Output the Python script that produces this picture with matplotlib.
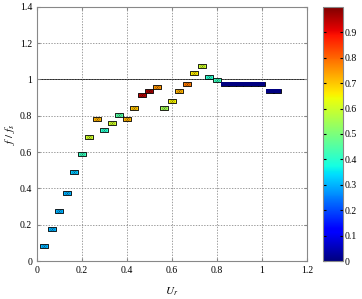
import numpy as np
import matplotlib
matplotlib.use("Agg")
import matplotlib.pyplot as plt
from matplotlib.path import Path

# reduced velocity, frequency ratio and colour value for each run
ur = [0.031, 0.067, 0.098, 0.133, 0.164, 0.200, 0.231, 0.267, 0.298, 0.333,
      0.364, 0.400, 0.431, 0.467, 0.498, 0.533, 0.564, 0.600, 0.631, 0.667,
      0.698, 0.733, 0.764, 0.800, 0.835, 0.867, 0.900, 0.933, 0.966, 0.998,
      1.036, 1.067]
f_ratio = [0.083, 0.176, 0.276, 0.375, 0.490, 0.590, 0.684, 0.783, 0.722, 0.761,
           0.805, 0.783, 0.843, 0.915, 0.937, 0.959, 0.843, 0.882, 0.937, 0.976,
           1.036, 1.075, 1.014, 0.998, 0.976, 0.976, 0.976, 0.976, 0.976, 0.976,
           0.937, 0.937]
amp = [0.30, 0.30, 0.30, 0.30, 0.32, 0.42, 0.60, 0.72, 0.40, 0.60,
       0.45, 0.72, 0.70, 0.95, 0.97, 0.75, 0.55, 0.65, 0.72, 0.78,
       0.66, 0.60, 0.40, 0.42, 0.0, 0.0, 0.0, 0.0, 0.0, 0.0,
       0.0, 0.0]

plt.rcParams['font.family'] = ['Liberation Serif', 'DejaVu Serif']
plt.rcParams['mathtext.fontset'] = 'stix'

fig = plt.figure(figsize=(3.62, 2.99), dpi=100)
ax = fig.add_axes([0.102, 0.127, 0.746, 0.850])
cax = fig.add_axes([0.892, 0.127, 0.056, 0.850])

# flat rectangle marker
box = Path([(-1, -0.55), (1, -0.55), (1, 0.55), (-1, 0.55), (-1, -0.55)],
           [Path.MOVETO, Path.LINETO, Path.LINETO, Path.LINETO, Path.CLOSEPOLY])

ax.axhline(1.0, color='black', lw=0.6, zorder=1)
sc = ax.scatter(ur, f_ratio, c=amp, cmap='jet', vmin=0, vmax=1, marker=box,
                s=30, edgecolors='black', linewidths=0.6, zorder=3)
# dark pattern inside the markers
ax.scatter(ur[:24], f_ratio[:24], marker='$\\infty$', s=9, c='black',
           linewidths=0, alpha=0.7, zorder=4)
# the high-Ur runs overlap into a dark band
ax.scatter(ur[24:], f_ratio[24:], c=amp[24:], cmap='jet', vmin=0, vmax=1,
           marker=box, s=30, linewidths=0, zorder=5)

ax.set_xlim(0, 1.2)
ax.set_ylim(0, 1.4)
ax.set_xticks(np.arange(0, 1.21, 0.2))
ax.set_yticks(np.arange(0, 1.41, 0.2))
ax.set_xticklabels(['0', '0.2', '0.4', '0.6', '0.8', '1', '1.2'])
ax.set_yticklabels(['0', '0.2', '0.4', '0.6', '0.8', '1', '1.2', '1.4'])
ax.grid(True, color='#777777', ls=(0, (2, 2)), lw=0.5)
ax.tick_params(direction='in', labelsize=7, length=2, top=True, right=True,
               color='#888888')
for s in ax.spines.values():
    s.set_color('#888888')
ax.set_xlabel('$U_r$', fontsize=8, labelpad=8)
ax.set_ylabel('$f\\ /\\ f_s$', fontsize=8, labelpad=2)

cb = fig.colorbar(sc, cax=cax, ticks=np.arange(0, 0.91, 0.1))
cb.ax.set_yticklabels(['0', '0.1', '0.2', '0.3', '0.4', '0.5', '0.6', '0.7', '0.8', '0.9'])
cb.ax.tick_params(direction='in', labelsize=7, length=2, left=True, pad=1)
cb.outline.set_edgecolor('#888888')

fig.savefig('out.png', dpi=100)
